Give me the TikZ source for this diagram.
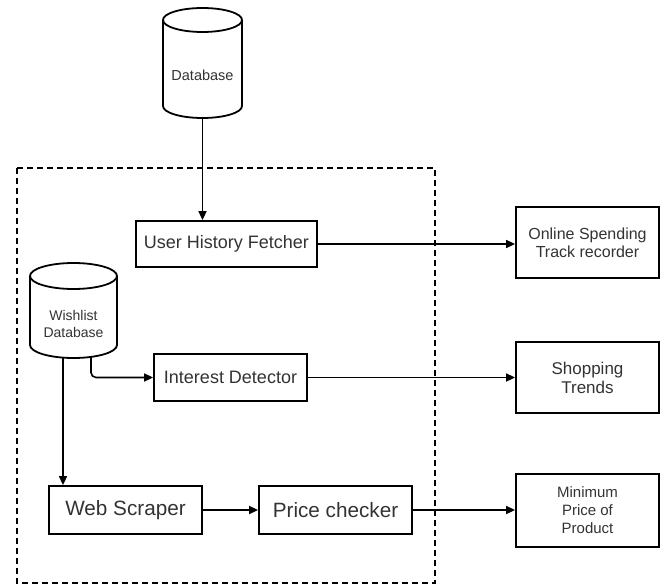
\documentclass[tikz,border=0pt]{standalone}
\usepackage{fontspec}
\setmainfont{Liberation Sans}
\usetikzlibrary{arrows.meta}
\definecolor{txt}{HTML}{333333}
\begin{document}
\begin{tikzpicture}[x=1pt,y=-1pt,
  box/.style={draw=black, line width=1.8pt, rectangle, inner sep=0pt, text=txt, align=center, fill=white},
  conn/.style={draw=black, line width=1.6pt, -{Triangle[length=9pt,width=8pt]}},
  cyl/.style={draw=black, line width=1.8pt, fill=white},
  lbl/.style={text=txt, align=center, inner sep=0pt},
  dashbox/.style={draw=black, line width=1.5pt, dash pattern=on 6pt off 4pt}]
\useasboundingbox (0,0) rectangle (666,586);

% dashed boundary
\draw[dashbox] (17,168) rectangle (435,583);

% Database cylinder
\draw[cyl] (163,20) -- (163,106) arc[start angle=180,end angle=360,x radius=39.5pt,y radius=12pt] -- (242,20);
\draw[cyl] (202.5,20) ellipse[x radius=39.5pt,y radius=12pt];
\node[inner sep=0pt, minimum width=79pt, minimum height=110pt] (db) at (202.5,63) {};
\node[lbl, font=\fontsize{14.5}{17}\selectfont] (dblbl) at (202.5,75) {Database};

% Wishlist cylinder
\draw[cyl] (30,276) -- (30,345) arc[start angle=180,end angle=360,x radius=43.5pt,y radius=13pt] -- (117,276);
\draw[cyl] (73.5,276) ellipse[x radius=43.5pt,y radius=13pt];
\node[inner sep=0pt, minimum width=87pt, minimum height=95pt] (wdb) at (73.5,310.5) {};
\node[lbl, font=\fontsize{14}{17.7}\selectfont] (wdblbl) at (73.5,324) {Wishlist\\Database};

% boxes
\node[box, minimum width=181pt, minimum height=46pt, font=\fontsize{18}{21}\selectfont] (uhf) at (226.5,244) {User History Fetcher};
\node[box, minimum width=143pt, minimum height=71pt, font=\fontsize{16}{18}\selectfont] (osr) at (587.5,242.5) {Online Spending\\Track recorder};
\node[box, minimum width=153pt, minimum height=47pt, font=\fontsize{18}{21}\selectfont] (intd) at (230.5,377.5) {Interest Detector};
\node[box, minimum width=143pt, minimum height=71pt, font=\fontsize{17}{19}\selectfont] (st) at (587.5,377.5) {Shopping\\Trends};
\node[box, minimum width=153pt, minimum height=48pt, font=\fontsize{20.7}{24}\selectfont] (ws) at (125.5,510) {Web Scraper};
\node[box, minimum width=153pt, minimum height=48pt, font=\fontsize{20.7}{24}\selectfont] (pc) at (335.5,510) {Price checker};
\node[box, minimum width=143pt, minimum height=73pt, font=\fontsize{15}{18}\selectfont] (mp) at (587.5,510.5) {Minimum\\Price of\\Product};

% connectors
\draw[conn] (db.south) -- (db.south |- uhf.north);
\draw[conn] (uhf.east) -- (uhf.east -| osr.west);
\draw[conn, rounded corners=5pt] ([xshift=17.5pt,yshift=1pt]wdb.south) |- (intd.west);
\draw[conn] ([xshift=-10.5pt]wdb.south) -- ([xshift=-10.5pt]wdb.south |- ws.north);
\draw[conn] (intd.east) -- (intd.east -| st.west);
\draw[conn] (ws.east) -- (pc.west);
\draw[conn] (pc.east) -- (pc.east -| mp.west);
\end{tikzpicture}
\end{document}
